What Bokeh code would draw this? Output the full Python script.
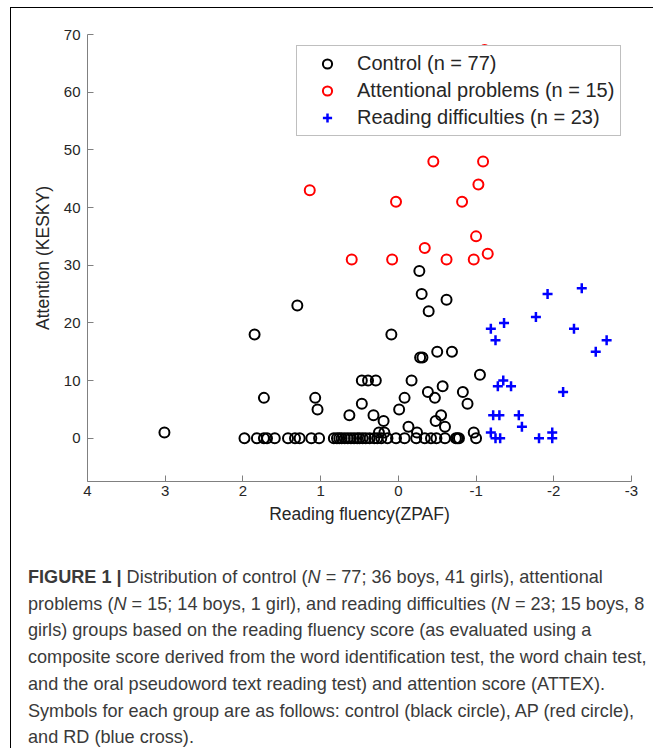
from bokeh.plotting import figure
from bokeh.models import Range1d, FixedTicker, Legend, LegendItem, Div, CustomJSTickFormatter
from bokeh.layouts import column
from bokeh.embed import file_html
from bokeh.resources import INLINE

# ---- data ----
control_x = [3.01, 1.85, 1.30, 1.73, 1.07, 1.04, 0.63, 0.47, 0.47, 0.39, 0.29, 0.32, 0.09,
             -0.28, -0.31, -0.50, -0.69, -1.05, -0.17, -0.38, -0.57, -0.47, -0.08, -0.83,
             -0.89, 0.19, -0.01, -0.55, -0.48, -0.60, -0.13, 0.25, 0.18, -0.24, -0.97,
             -0.27, -0.30, -0.62, -0.39,
             1.98, 1.82, 1.73, 1.69, 1.59, 1.42, 1.33, 1.27, 1.12, 1.02, 0.83, 0.79, 0.76,
             0.73, 0.69, 0.65, 0.61, 0.57, 0.53, 0.50, 0.46, 0.42, 0.37, 0.31, 0.27, 0.22,
             0.14, 0.03, -0.08, -0.23, -0.34, -0.42, -0.49, -0.60, -0.74, -0.76, -0.78, -1.00]
control_y = [1, 18, 23, 7, 7, 5, 4, 6, 10, 10, 10, 4, 18,
             14, 14, 15, 15, 11, 10, 8, 9, 7, 7, 8,
             6, 3, 5, 4, 3, 2, 2, 1, 1, 1, 1,
             29, 25, 24, 22,
             0, 0, 0, 0, 0, 0, 0, 0, 0, 0, 0, 0, 0,
             0, 0, 0, 0, 0, 0, 0, 0, 0, 0, 0, 0, 0,
             0, 0, 0, 0, 0, 0, 0, 0, 0, 0, 0, 0]

ap_x = [-0.45, -1.09, -1.03, 1.14, 0.03, -0.82, -1.00, -0.34, 0.60, 0.08, -0.62, -0.97, -1.15, -1.11]
ap_y = [48, 48, 44, 43, 41, 41, 35, 33, 31, 31, 31, 31, 32, 67.3]

rd_x = [-1.92, -2.36, -1.77, -1.36, -1.19, -2.26, -1.25, -2.68, -2.54, -1.35, -1.28, -1.45,
        -2.12, -1.22, -1.30, -1.55, -1.59, -1.19, -1.25, -1.31, -1.81, -1.98, -1.98]
rd_y = [25, 26, 21, 20, 19, 19, 17, 17, 15, 10, 9, 9,
        8, 4, 4, 4, 2, 1, 0, 0, 0, 1, 0]

x_ticks = [4, 3, 2, 1, 0, -1, -2, -3]
y_ticks = [0, 10, 20, 30, 40, 50, 60, 70]

labels = ["Control (n = 77)", "Attentional problems (n = 15)", "Reading difficulties (n = 23)"]

FONT = "Liberation Sans"
TXT = "#262626"
AX = "#808080"

p = figure(frame_width=544, frame_height=447,
           x_range=Range1d(4, -3), y_range=Range1d(-7.5, 70),
           min_border_left=76, min_border_right=12, min_border_top=26, min_border_bottom=63,
           output_backend="svg", toolbar_location=None)
p.outline_line_color = None
p.grid.visible = False
p.background_fill_color = "white"
p.border_fill_color = "white"

p.xaxis.ticker = FixedTicker(ticks=x_ticks)
p.yaxis.ticker = FixedTicker(ticks=y_ticks)
p.xaxis.formatter = CustomJSTickFormatter(code="return tick.toString();")
for ax in (p.xaxis, p.yaxis):
    ax.axis_line_color = AX
    ax.major_tick_line_color = AX
    ax.major_tick_in = 6
    ax.major_tick_out = 0
    ax.minor_tick_line_color = None
    ax.major_label_text_font = FONT
    ax.major_label_text_font_size = "15px"
    ax.major_label_text_color = TXT
    ax.axis_label_text_font = FONT
    ax.axis_label_text_font_size = "17.5px"
    ax.axis_label_text_font_style = "normal"
    ax.axis_label_text_color = TXT
p.xaxis.axis_label = "Reading fluency(ZPAF)"
p.yaxis.axis_label = "Attention (KESKY)"
p.xaxis.major_label_standoff = 4
p.xaxis.axis_label_standoff = 5
p.yaxis.major_label_standoff = 7
p.yaxis.axis_label_standoff = 8

r_c = p.scatter(control_x, control_y, marker="circle", size=10, fill_color=None,
                line_color="black", line_width=2)
r_a = p.scatter(ap_x, ap_y, marker="circle", size=10, fill_color=None,
                line_color="#ff0000", line_width=2)
r_r = p.scatter(rd_x, rd_y, marker="cross", size=10, line_color="#0000ff", line_width=2.5)

legend = Legend(items=[LegendItem(label=labels[0], renderers=[r_c]),
                       LegendItem(label=labels[1], renderers=[r_a]),
                       LegendItem(label=labels[2], renderers=[r_r])],
                location=(209, 345))
legend.label_text_font = FONT
legend.label_text_font_size = "20px"
legend.label_text_color = TXT
legend.label_height = 23
legend.glyph_height = 23
legend.glyph_width = 48
legend.label_standoff = 6
legend.spacing = 4
legend.padding = 6
legend.margin = 0
legend.border_line_color = AX
legend.border_line_width = 1
legend.background_fill_color = "white"
legend.background_fill_alpha = 1
p.add_layout(legend, "center")

caption = (
    '<div style="font-family: \'Liberation Sans\', Arial, sans-serif; font-size:18.1px; '
    'line-height:26.7px; color:#3a3a3a; white-space:nowrap; padding:15px 0 0 12px;">'
    '<b>FIGURE 1 |</b> Distribution of control (<i>N</i> = 77; 36 boys, 41 girls), attentional<br>'
    'problems (<i>N</i> = 15; 14 boys, 1 girl), and reading difficulties (<i>N</i> = 23; 15 boys, 8<br>'
    'girls) groups based on the reading fluency score (as evaluated using a<br>'
    'composite score derived from the word identification test, the word chain test,<br>'
    'and the oral pseudoword text reading test) and attention score (ATTEX).<br>'
    'Symbols for each group are as follows: control (black circle), AP (red circle),<br>'
    'and RD (blue cross).</div>'
)
div = Div(text=caption, width=632, height=198, styles={"overflow": "hidden"})

inner = column(p, div, spacing=0, margin=(7, 0, 0, 10),
               styles={"border-left": "1px solid #000", "border-top": "1px solid #000"})
layout = column(inner)

open("out.html", "w").write(file_html(layout, INLINE))
